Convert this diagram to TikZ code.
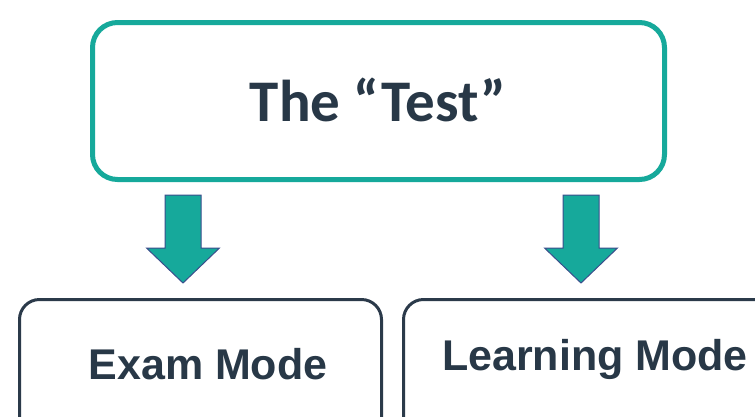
\documentclass[tikz,border=0pt]{standalone}
\usepackage{fontspec}
\newfontfamily\topfont{Carlito}[BoldFont={Carlito Bold}]
\newfontfamily\botfont{Liberation Sans}
\definecolor{teal1}{HTML}{16A99B}
\definecolor{arrowline}{HTML}{3A4E8C}
\definecolor{darktext}{HTML}{283847}
\definecolor{boxline}{HTML}{2B3A4A}
\tikzset{
  topbox/.style={draw=teal1, line width=5pt, rounded corners=25pt},
  modebox/.style={draw=boxline, line width=3pt, rounded corners=20pt},
  toptext/.style={font=\topfont\bfseries\fontsize{59}{60}\selectfont, text=darktext, anchor=base, inner sep=0pt},
  modetext/.style={font=\botfont\bfseries\fontsize{43}{44}\selectfont, text=darktext, anchor=base, inner sep=0pt},
  blockarrow/.style={fill=teal1, draw=arrowline, line width=1pt, line join=miter}
}
\begin{document}
\begin{tikzpicture}[x=1pt,y=-1pt]
\useasboundingbox (0,0) rectangle (755,416);
\clip (0,0) rectangle (755,416);
\fill[white] (0,0) rectangle (755,416);
% top box
\draw[topbox] (92.5,22.5) rectangle (664.5,179.5);
\node[toptext] (test) at (378,121) {The “Test”};
% bottom boxes
\draw[modebox] (19.5,299.5) rectangle (381.5,450);
\draw[modebox] (403.5,299.5) rectangle (790,450);
\node[modetext] (exam) at (208,379) {Exam Mode};
\node[modetext] (learn) at (595,370) {Learning Mode};
% block arrows
\coordinate (la) at (183,195);
\coordinate (ra) at (581,195);
\foreach \c/\n in {la/l, ra/r}{
  \draw[blockarrow] ([xshift=-18pt]\c) -- ([xshift=18pt]\c) -- ([xshift=18pt,yshift=-53pt]\c)
    -- ([xshift=36.5pt,yshift=-53pt]\c) -- ([yshift=-88pt]\c) -- ([xshift=-36.5pt,yshift=-53pt]\c)
    -- ([xshift=-18pt,yshift=-53pt]\c) -- cycle;
}
\end{tikzpicture}
\end{document}
